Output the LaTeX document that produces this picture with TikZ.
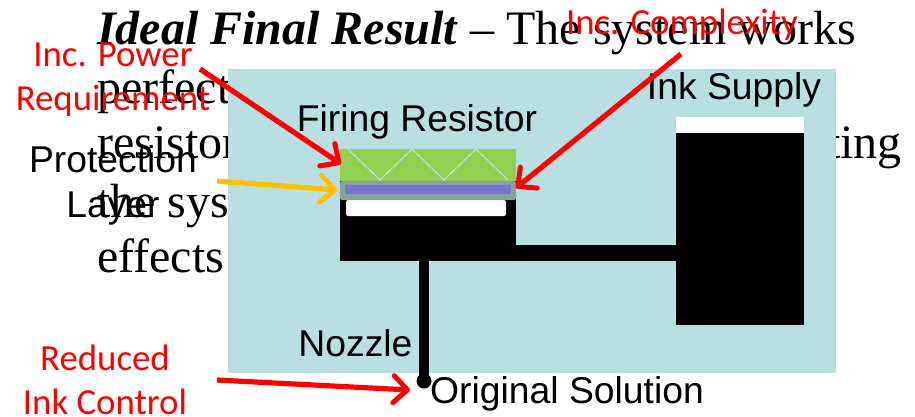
\documentclass[tikz,border=0pt]{standalone}
\usepackage{fontspec}
\setmainfont{Liberation Serif}
\newfontfamily\labelfont{Liberation Sans}
\newfontfamily\notefont{Carlito}
\usetikzlibrary{arrows.meta}
\usetikzlibrary{positioning}

\definecolor{panelblue}{HTML}{B9DFE3}
\definecolor{heatgreen}{HTML}{92D050}
\definecolor{layergray}{HTML}{86A0A3}
\definecolor{filmpurple}{HTML}{7774CF}
\definecolor{noteyellow}{HTML}{FFC000}

\tikzset{
    slide/.style={inner sep=0pt,font=\fontsize{48}{48}\selectfont},
    part/.style={inner sep=0pt,align=center,font=\labelfont\fontsize{37.3}{45}\selectfont},
    note/.style={inner sep=0pt,align=center,text=red,font=\notefont\fontsize{36.8}{44}\selectfont},
    pointer/.style={-{Straight Barb[length=14pt,width=27pt,line width=5pt,round]},line width=5.2pt,red}
}

\begin{document}
\begin{tikzpicture}[x=1pt,y=-1pt]
    \useasboundingbox (0,0) rectangle (915,416);

    % slide text behind the panel
    \node[slide,anchor=base west] (title) at (97,44) {\textbf{\textit{Ideal Final Result}} -- The system works};
    \node[slide,anchor=base west] (line1) at (97,103) {perfect};
    \node[slide,anchor=base west] (line2) at (97,158) {resistor};
    \node[slide,anchor=base west] (line3) at (97,217) {the sys};
    \node[slide,anchor=base west] (line4) at (97,272) {effects};
    \node[slide,anchor=base east] (line5) at (902,158) {ting};

    \fill[panelblue] (228,69) rectangle (836,373);

    % ink supply
    \fill[white] (676,117) rectangle (804,133);
    \fill[black] (676,133) rectangle (804,325);

    % chamber and channels
    \fill[black] (340,181) rectangle (516,261);
    \fill[black] (516,245) rectangle (676,261);
    \fill[black] (419,261) rectangle (429,380);
    \fill[black] (424,381) circle (7.5);
    \fill[white,rounded corners=2pt] (346,200) rectangle (506,216);

    % firing resistor
    \fill[heatgreen] (340,149) rectangle (516,181);
    \draw[panelblue,line width=1.2pt] (348,149) -- (380,180) -- (412,149) -- (444,180) -- (476,149) -- (508,180);
    \fill[layergray,rounded corners=2pt] (340,181) rectangle (516,200);
    \fill[filmpurple] (345,185) rectangle (511,194);

    \node[part] (resistor) at (417,122) {Firing Resistor};
    \node[part] (supply) at (734,90) {Ink Supply};
    \node[part] (nozzle) at (355.5,343) {Nozzle};
    \node[part,anchor=west] (solution) at (430,394) {Original Solution};
    \node[part] (protection) at (113,185) {Protection\\Layer};

    \node[note] (power) at (113,80) {Inc. Power\\Requirement};
    \node[note] (complexity) at (682,25) {Inc. Complexity};
    \node[note] (control) at (105,380) {Reduced\\Ink Control};

    \coordinate (powerstart) at (200,69);
    \coordinate (powerend) at (341,164);
    \coordinate (layerstart) at (217,181);
    \coordinate (layerend) at (337,190);
    \coordinate (complexstart) at (681,54);
    \coordinate (complexend) at (516,188);
    \coordinate (controlstart) at (217,380);
    \coordinate (controlend) at (410,390);

    \draw[pointer] (powerstart) -- (powerend);
    \draw[pointer,noteyellow] (layerstart) -- (layerend);
    \draw[pointer] (complexstart) -- (complexend);
    \draw[pointer] (controlstart) -- (controlend);
\end{tikzpicture}
\end{document}
